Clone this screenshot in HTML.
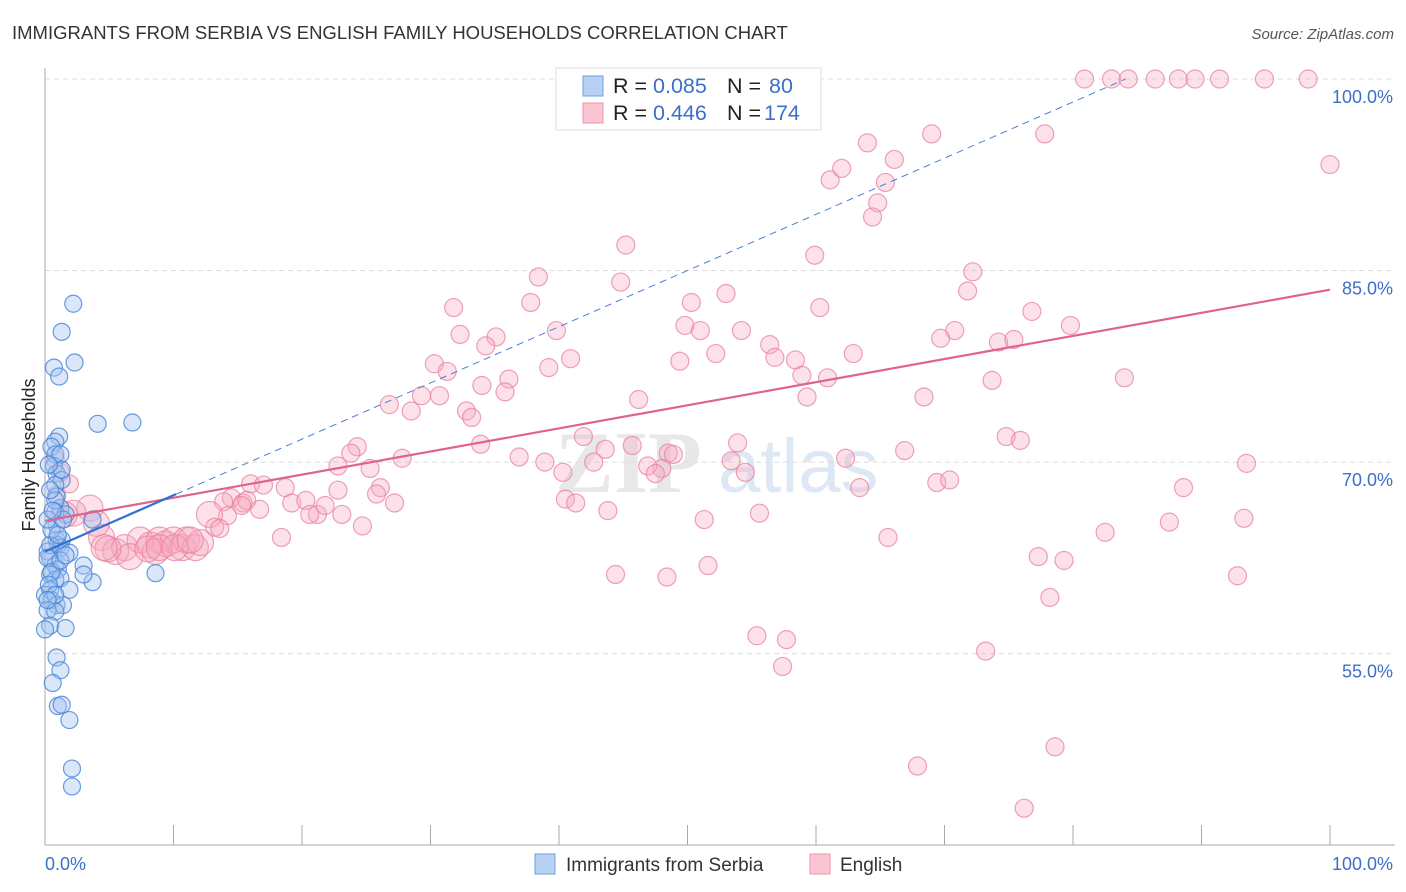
<!DOCTYPE html>
<html><head><meta charset="utf-8"><style>
body{margin:0;background:#fff;font-family:"Liberation Sans",sans-serif}
svg{display:block}
</style></head><body>
<svg id="chart" width="1406" height="892">
<text x="12" y="39" font-size="18.5" fill="#333">IMMIGRANTS FROM SERBIA VS ENGLISH FAMILY HOUSEHOLDS CORRELATION CHART</text>
<text x="1394" y="39" font-size="15" fill="#555" font-style="italic" text-anchor="end">Source: ZipAtlas.com</text>
<g><text x="555" y="492" font-size="88" font-weight="bold" fill="#e8e8e8" font-family="Liberation Serif,serif">ZIP</text><text x="718" y="492" font-size="76" fill="#dde8f5">atlas</text></g>
<g id="grid"></g>
<g id="axes"></g>
<g id="pink"></g>
<g id="blue"></g>
<g id="lines"></g>
<text transform="translate(35,455) rotate(-90)" font-size="18" fill="#222" text-anchor="middle">Family Households</text>
<g>
<rect x="556" y="68" width="265" height="62" fill="#fff" stroke="#ddd"/>
<rect x="583" y="76" width="20" height="20" fill="#b7d1f3" stroke="#6f9ee0"/>
<rect x="583" y="103" width="20" height="20" fill="#fbc4d3" stroke="#ec93ae"/>
<text x="613" y="93" font-size="21.5" fill="#222">R = <tspan fill="#3c6fc9">0.085</tspan><tspan x="727">N = </tspan><tspan x="769" fill="#3c6fc9">80</tspan></text>
<text x="613" y="120" font-size="21.5" fill="#222">R = <tspan fill="#3c6fc9">0.446</tspan><tspan x="727">N = </tspan><tspan x="764" fill="#3c6fc9">174</tspan></text>
</g>
<g>
<rect x="535" y="854" width="20" height="20" fill="#b7d1f3" stroke="#6f9ee0"/>
<text x="566" y="871" font-size="19" fill="#333">Immigrants from Serbia</text>
<rect x="810" y="854" width="20" height="20" fill="#fbc4d3" stroke="#ec93ae"/>
<text x="840" y="871" font-size="19" fill="#333">English</text>
</g>
</svg>
<script>
const yTicks=[55,70,85,100];
const yTickLabels=["55.0%","70.0%","85.0%","100.0%"];
const xTicks=[0,10,20,30,40,50,60,70,80,90,100];
const xEdgeLabels=["0.0%","100.0%"];
const pinkX=[80.9,83.0,84.3,86.4,88.2,89.5,91.4,94.9,98.3,100,64.0,69.0,77.8,66.1,61.1,62.0,65.4,64.8,64.4,45.2,59.9,38.4,44.8,72.2,71.8,53.0,50.3,60.3,76.8,39.8,31.8,37.8,49.8,51.0,54.2,79.8,70.8,69.7,74.2,75.4,32.3,35.1,34.3,56.4,49.4,52.2,56.8,58.4,62.9,40.9,39.2,30.3,31.3,58.9,60.9,84.0,73.7,36.1,34.0,26.8,29.3,28.5,30.7,35.8,46.2,59.3,68.4,32.8,33.2,41.9,33.9,24.3,23.8,27.8,36.9,38.9,45.7,43.6,42.7,48.5,48.9,53.9,53.4,62.3,66.9,74.8,75.9,22.8,25.3,26.1,25.8,22.8,16.0,17.0,18.7,19.2,20.3,14.5,15.4,15.7,16.7,13.9,14.2,15.3,21.2,20.6,21.8,23.1,24.7,27.2,40.3,40.5,41.3,43.8,48.0,46.9,47.5,54.5,55.6,63.4,69.4,70.4,93.5,88.6,93.3,87.5,82.5,51.3,65.6,12.8,13.2,13.6,3.5,2.2,4.0,4.4,5.5,6.2,7.4,6.6,8.2,8.9,9.4,10.0,10.7,11.0,11.7,12.1,8.6,8.0,8.9,10.1,11.3,18.4,51.6,44.4,48.4,77.3,79.3,92.8,78.2,55.4,57.7,57.4,73.2,78.6,67.9,76.2,0.8,1.2,1.9,1.5,0.9,4.9,4.6];
const pinkY=[100,100,100,100,100,100,100,100,100,93.3,95.0,95.7,95.7,93.7,92.1,93.0,91.9,90.3,89.2,87.0,86.2,84.5,84.1,84.9,83.4,83.2,82.5,82.1,81.8,80.3,82.1,82.5,80.7,80.3,80.3,80.7,80.3,79.7,79.4,79.6,80.0,79.8,79.1,79.2,77.9,78.5,78.2,78.0,78.5,78.1,77.4,77.7,77.1,76.8,76.6,76.6,76.4,76.5,76.0,74.5,75.2,74.0,75.2,75.5,74.9,75.1,75.1,74.0,73.5,72.0,71.4,71.2,70.7,70.3,70.4,70.0,71.3,71.0,70.0,70.7,70.6,71.5,70.1,70.3,70.9,72.0,71.7,69.7,69.5,68.0,67.5,67.8,68.3,68.2,68.0,66.8,67.0,67.2,66.8,67.0,66.3,66.9,65.8,66.6,65.9,65.9,66.6,65.9,65.0,66.8,69.2,67.1,66.8,66.2,69.5,69.7,69.1,69.2,66.0,68.0,68.4,68.6,69.9,68.0,65.6,65.3,64.5,65.5,64.1,65.9,64.9,64.8,66.4,66.0,65.2,64.1,63.0,63.3,63.9,62.6,63.5,63.9,63.6,63.9,63.3,63.9,63.3,63.7,63.0,63.2,63.3,63.3,63.9,64.1,61.9,61.2,61.0,62.6,62.3,61.1,59.4,56.4,56.1,54.0,55.2,47.7,46.2,42.9,70.2,69.2,68.3,65.9,67.4,63.2,63.3];
const blueX=[2.2,1.3,2.3,0.7,1.1,4.1,6.8,1.1,0.8,0.5,0.8,0.7,0.9,1.3,0.8,0.9,1.2,0.8,1.6,3.7,0.9,0.9,1.0,1.3,1.2,1.9,0.2,0.4,3.0,0.8,1.0,3.7,0.4,0.8,1.2,0.4,1.9,0,0.5,0.9,1.4,0.2,0.8,0.4,1.6,0,8.6,3.0,0.9,1.2,0.6,1.0,1.3,1.9,2.1,2.1,0.4,0.5,0.2,0.2,0.5,0.3,0.8,0.2,1.2,1.6,1.0,1.4,0.8,0.4,1.2,1.3,0.3,0.6];
const blueY=[82.4,80.2,77.8,77.4,76.7,73.0,73.1,72.0,71.6,71.2,70.6,69.7,69.1,68.6,68.2,67.3,66.4,66.1,65.9,65.5,65.1,63.9,63.5,63.9,63.3,62.9,63.0,62.5,61.9,61.9,61.6,60.6,61.2,60.8,60.9,60.0,60.0,59.6,59.2,58.8,58.8,58.4,58.3,57.2,57.0,56.9,61.3,61.2,54.7,53.7,52.7,50.9,51.0,49.8,46.0,44.6,63.5,64.7,65.5,62.5,61.4,60.4,59.6,59.2,62.3,62.7,64.3,65.5,67.0,67.8,70.6,69.4,69.8,66.2];
const pinkTrend=[65.4,83.5];
const blueTrend=[63.0,0.44];
const blueSolidEnd=10.2;

const NS="http://www.w3.org/2000/svg";
const X0=45,X1=1330,YB=845;
function sx(v){return X0+(X1-X0)*v/100;}
function sy(v){return 79+(100-v)*12.77;}
function mk(tag,attrs,parent){const e=document.createElementNS(NS,tag);for(const k in attrs)e.setAttribute(k,attrs[k]);parent.appendChild(e);return e;}
const grid=document.getElementById('grid'),axes=document.getElementById('axes');
yTicks.forEach((t,i)=>{
  const l=mk('line',{x1:X0,x2:1395,y1:sy(t),y2:sy(t),stroke:'#dcdcdc','stroke-dasharray':'5,4'},grid);
  
  
  const tx=mk('text',{x:1393,y:sy(t)+24,'font-size':18,fill:'#3c6fc9','text-anchor':'end'},axes);
  tx.textContent=yTickLabels[i];
  
  
});
const ax=mk('line',{x1:X0,x2:X0,y1:68,y2:YB,stroke:'#aaa'},axes);


const bx=mk('line',{x1:X0,x2:1395,y1:YB,y2:YB,stroke:'#aaa'},axes);


xTicks.forEach(t=>{
  const l=mk('line',{x1:sx(t),x2:sx(t),y1:825,y2:YB,stroke:'#aaa'},axes);
  
  
});
const xl0=mk('text',{x:45,y:870,'font-size':18,fill:'#3c6fc9'},axes);xl0.textContent=xEdgeLabels[0];


const xl1=mk('text',{x:1393,y:870,'font-size':18,fill:'#3c6fc9','text-anchor':'end'},axes);xl1.textContent=xEdgeLabels[1];


const pg=document.getElementById('pink');
pinkX.forEach((x,i)=>{
  const r=x<13&&pinkY[i]<67?13:9;
  const c=mk('circle',{cx:sx(x),cy:sy(pinkY[i]),r:r,fill:'rgba(247,170,192,0.35)',stroke:'rgba(232,130,162,0.75)','stroke-width':1.2},pg);
  
  
});
const bg=document.getElementById('blue');
blueX.forEach((x,i)=>{
  const c=mk('circle',{cx:sx(x),cy:sy(blueY[i]),r:8.5,fill:'rgba(160,195,240,0.4)',stroke:'rgba(70,130,215,0.8)','stroke-width':1.2},bg);
  
  
});
const lg=document.getElementById('lines');
const bEnd=(100-blueTrend[0])/blueTrend[1];
const bd=mk('line',{x1:sx(blueSolidEnd),y1:sy(blueTrend[0]+blueTrend[1]*blueSolidEnd),x2:sx(bEnd),y2:sy(100),stroke:'#4a7fd6','stroke-width':1,'stroke-dasharray':'7,5'},lg);


const pl=mk('line',{x1:sx(0),y1:sy(pinkTrend[0]),x2:sx(100),y2:sy(pinkTrend[1]),stroke:'#e0628e','stroke-width':2.2},lg);


const bl=mk('line',{x1:sx(0),y1:sy(blueTrend[0]),x2:sx(blueSolidEnd),y2:sy(blueTrend[0]+blueTrend[1]*blueSolidEnd),stroke:'#2f6fd6','stroke-width':2.2},lg);


</script>
</body></html>
